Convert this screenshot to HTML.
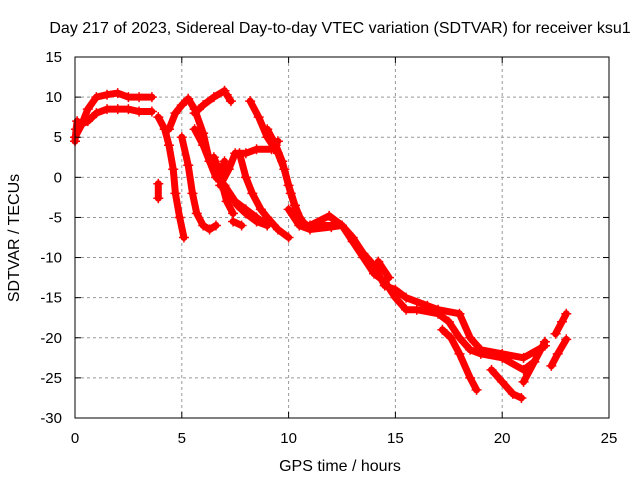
<!DOCTYPE html>
<html><head><meta charset="utf-8"><style>
body{margin:0;background:#fff;}
svg{display:block;font-family:"Liberation Sans",sans-serif;}
</style></head><body>
<svg id="chart" width="640" height="480">
<rect width="640" height="480" fill="#fff"/>
<text x="340" y="33" text-anchor="middle" font-size="16">Day 217 of 2023, Sidereal Day-to-day VTEC variation (SDTVAR) for receiver ksu1</text>
<text x="340" y="471" text-anchor="middle" font-size="16">GPS time / hours</text>
<text x="19" y="238" text-anchor="middle" font-size="16" transform="rotate(-90 19 238)">SDTVAR / TECUs</text>
<g id="grid"></g><g id="marks"></g><g id="axes"></g>
</svg>
<script>
const xTicks=[0,5,10,15,20,25];
const yTicks=[15,10,5,0,-5,-10,-15,-20,-25,-30];
const trackA=[[0,5],[0.3,6.5],[0.6,8.5],[1,10],[1.5,10.3],[2,10.5],[2.5,10],[3,10],[3.6,10]];
const trackA2=[[0.2,6.5],[0.6,7],[1,8],[1.5,8.5],[2,8.5],[2.5,8.5],[3,8.2],[3.6,8.2]];
const trackA3=[[0,4.5],[0.05,6],[0.1,7]];
const trackB=[[3.9,7.5],[4.2,6],[4.4,4],[4.6,1],[4.7,-2],[4.9,-5],[5.1,-7.5]];
const trackC=[[3.9,-0.8],[3.9,-2.6]];
const trackD1=[[4.4,6],[4.7,8],[5.0,9],[5.3,9.8],[5.6,8.5],[6.0,5.5],[6.3,2],[6.6,0],[7.0,-1],[7.5,-3],[8,-4],[8.5,-5],[9,-6]];
const trackD2=[[5.0,5],[5.3,1.5],[5.5,-2],[5.7,-4.5],[6.0,-6],[6.3,-6.5],[6.6,-6]];
const trackD3=[[5.6,8],[6,9],[6.5,10],[7,10.8]];
const trackD4=[[5.6,6],[6,4],[6.3,2],[6.6,0.5],[6.9,-1],[7.1,-3],[7.4,-4.5]];
const trackE=[[8.2,9.5],[8.6,7.5],[9,5],[9.5,3],[9.8,1],[10.1,-2],[10.4,-4.5],[10.8,-6],[11.5,-6],[12,-6]];
const trackE2=[[9,6],[9.4,4],[9.7,2],[10,-1],[10.3,-3.5],[10.6,-5.5],[11,-6.2]];
const trackF=[[7.4,-5.5],[7.8,-6]];
const trackG=[[6.8,-1],[7.2,1],[7.5,3],[8,3],[8.5,3.5],[9.2,3.5],[9.5,4.5]];
const trackG2=[[6.5,2.5],[6.8,0.5],[7,2]];
const trackH=[[7.7,3],[8,0],[8.3,-2],[8.7,-4],[9,-5],[9.5,-6.5],[10,-7.5]];
const trackH2=[[7.2,-2],[7.6,-3.5],[8,-4.5],[8.5,-5.5],[9.0,-6]];
const trackI=[[7.1,10.3],[7.3,9.5]];
const mainA=[[10,-4],[10.5,-6],[11,-6.5],[12,-6.2],[12.5,-6],[13,-8],[13.5,-10],[14,-12],[14.5,-13],[15,-15],[15.5,-16.5],[16,-16.5],[17,-17],[17.5,-18],[18,-20],[18.5,-21.5],[19,-22],[20,-22.5],[21,-24],[21.5,-23]];
const mainB=[[11,-6],[11.9,-4.8],[12.5,-6],[13,-7.5],[13.5,-9.5],[14,-11],[14.5,-13.5],[15,-14],[15.5,-15],[16.5,-16],[17,-16.5],[18,-17],[18.5,-20],[19,-21.5],[20,-22],[21,-22.5],[22,-21]];
const trackJ=[[14.2,-10.5],[14.7,-12.5]];
const trackK=[[17.2,-19],[17.6,-20],[18,-22],[18.5,-25],[18.8,-26.5]];
const trackL=[[19.5,-24],[20,-25.5],[20.5,-27],[20.9,-27.5]];
const trackM=[[21,-25.5],[21.5,-23],[22,-20.5]];
const trackN=[[22.3,-23.5],[22.6,-22],[23,-20.2]];
const trackO=[[22.5,-19.5],[22.8,-18],[23,-17]];
const tracks=[trackA,trackA2,trackA3,trackB,trackC,trackD1,trackD2,trackD3,trackD4,trackE,trackE2,trackF,trackG,trackG2,trackH,trackH2,trackI,mainA,mainB,trackJ,trackK,trackL,trackM,trackN,trackO];

const L=75,R=609,T=57,B=418;
const xs=v=>L+(v-0)/(25-0)*(R-L);
const ys=v=>B-(v+30)/(45)*(B-T);
const NS='http://www.w3.org/2000/svg';
function mk(tag,attrs,parent){const e=document.createElementNS(NS,tag);for(const k in attrs)e.setAttribute(k,attrs[k]);parent.appendChild(e);return e;}
const grid=document.getElementById('grid'),axes=document.getElementById('axes'),marks=document.getElementById('marks');
xTicks.forEach(t=>{
  const x=xs(t);
  if(t>0&&t<25){const g=mk('line',{x1:x,x2:x,y1:T,y2:B,stroke:'#999','stroke-dasharray':'3,3'},grid);
  
  }
  mk('line',{x1:x,x2:x,y1:B,y2:B-6,stroke:'#000'},axes);
  mk('line',{x1:x,x2:x,y1:T,y2:T+6,stroke:'#000'},axes);
  const tx=mk('text',{x:x,y:B+25,'text-anchor':'middle','font-size':15},axes);tx.textContent=t;
  
  
});
yTicks.forEach(t=>{
  const y=ys(t);
  if(t<15&&t>-30){const g=mk('line',{x1:L,x2:R,y1:y,y2:y,stroke:'#999','stroke-dasharray':'3,3'},grid);
  
  }
  mk('line',{x1:L,x2:L+6,y1:y,y2:y,stroke:'#000'},axes);
  mk('line',{x1:R,x2:R-6,y1:y,y2:y,stroke:'#000'},axes);
  const tx=mk('text',{x:L-13,y:y+5,'text-anchor':'end','font-size':15},axes);tx.textContent=t;
  
  
});
const bd=mk('rect',{x:L,y:T,width:R-L,height:B-T,fill:'none',stroke:'#000'},axes);


tracks.forEach(tr=>{
  const pl=mk('polyline',{points:tr.map(p=>xs(p[0])+','+ys(p[1])).join(' '),fill:'none',stroke:'#f00','stroke-width':7,'stroke-linejoin':'round','stroke-linecap':'round'},marks);
  
  
  tr.forEach(p=>{
    const x=xs(p[0]),y=ys(p[1]);
    const m=mk('path',{d:`M${x-5},${y}H${x+5}M${x},${y-5}V${y+5}`,stroke:'#f00','stroke-width':1.5},marks);
    
    
  });
});
</script>
</body></html>
